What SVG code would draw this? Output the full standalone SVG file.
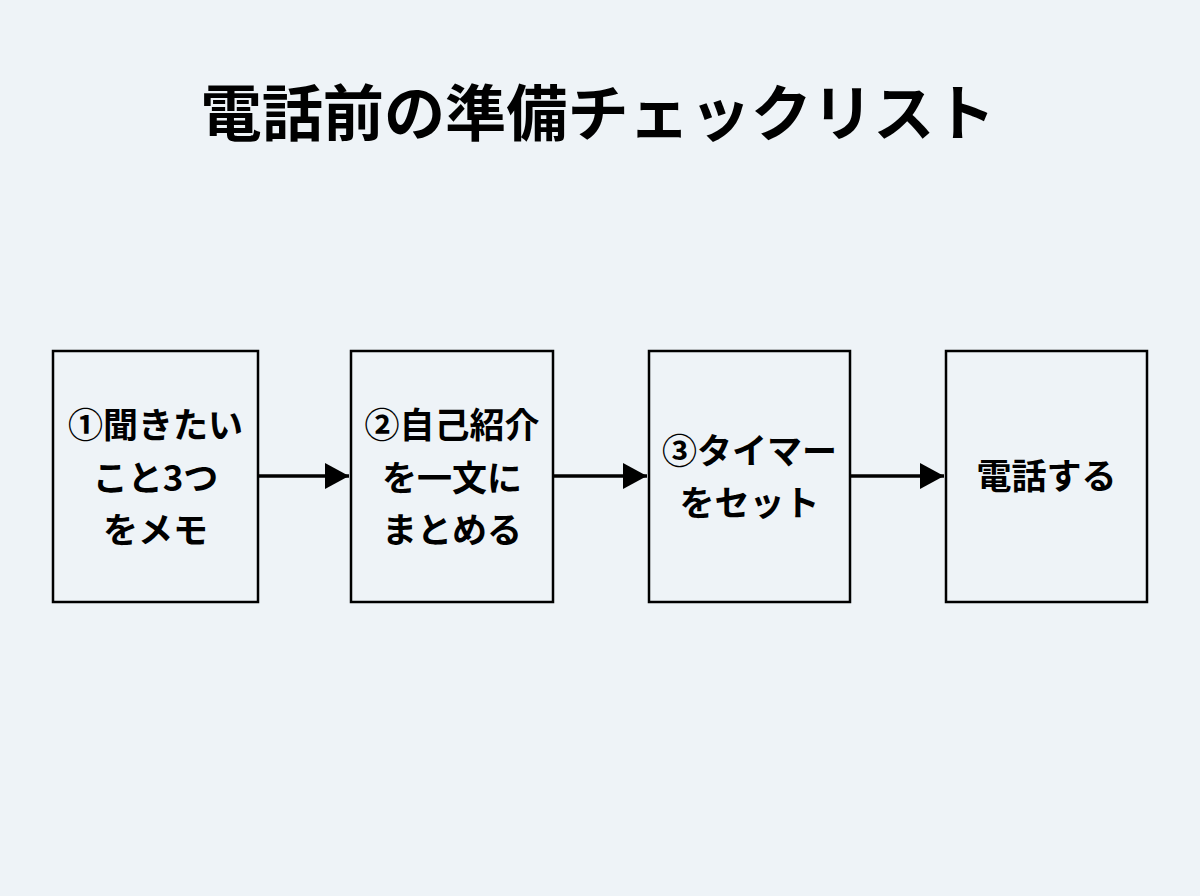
<svg xmlns="http://www.w3.org/2000/svg" width="1200" height="896" viewBox="0 0 1200 896">
<defs>
<style>
.box{fill:none;stroke:#000;stroke-width:2.5}
.t{font-family:"Noto Sans CJK JP","Noto Sans",sans-serif;font-weight:bold;font-size:35px;fill:#000;text-anchor:middle}
.title{font-family:"Noto Sans CJK JP","Noto Sans",sans-serif;font-weight:bold;font-size:61px;fill:#000;text-anchor:middle}
.edge{stroke:#000;stroke-width:3.5;fill:none}
</style>
<marker id="ah" markerWidth="24" markerHeight="26" refX="24" refY="13" orient="auto" markerUnits="userSpaceOnUse">
<path d="M0,0 L24,13 L0,26 Z" fill="#000"/>
</marker>
</defs>
<rect width="1200" height="896" fill="#eef3f7"/>
<text class="title" x="598" y="136" textLength="795" lengthAdjust="spacingAndGlyphs">電話前の準備チェックリスト</text>
<g id="n1">
<rect class="box" x="53" y="351" width="205" height="251"/>
<text class="t" x="155.5" y="438">①聞きたい</text>
<text class="t" x="155.5" y="491">こと3つ</text>
<text class="t" x="155.5" y="543">をメモ</text>
</g>
<g id="n2">
<rect class="box" x="351" y="351" width="202" height="251"/>
<text class="t" x="452" y="438">②自己紹介</text>
<text class="t" x="452" y="491">を一文に</text>
<text class="t" x="452" y="543">まとめる</text>
</g>
<g id="n3">
<rect class="box" x="649" y="351" width="201" height="251"/>
<text class="t" x="749.5" y="464">③タイマー</text>
<text class="t" x="749.5" y="516">をセット</text>
</g>
<g id="n4">
<rect class="box" x="946" y="351" width="201" height="251"/>
<text class="t" x="1046.5" y="489">電話する</text>
</g>
<g id="edges">
<line class="edge" x1="258" y1="476" x2="349" y2="476" marker-end="url(#ah)"/>
<line class="edge" x1="553" y1="476" x2="647" y2="476" marker-end="url(#ah)"/>
<line class="edge" x1="850" y1="476" x2="944" y2="476" marker-end="url(#ah)"/>
</g>
</svg>
